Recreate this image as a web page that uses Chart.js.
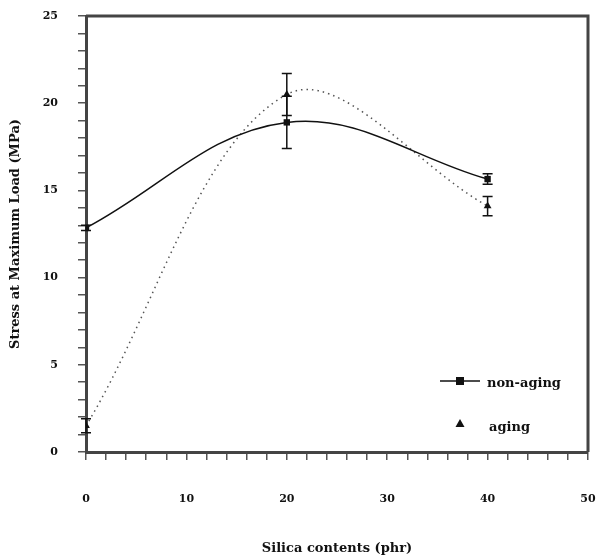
<!DOCTYPE html>
<html>
<head>
<meta charset="utf-8">
<script src="https://cdn.jsdelivr.net/npm/chart.js@4"></script>
<style>
  html, body { margin: 0; padding: 0; background: #fff; }
  #wrap { width: 597px; height: 560px; }
</style>
</head>
<body>
<div id="wrap"><canvas id="myChart" width="597" height="560"></canvas></div>
<script>
// silica content (phr)
var silica = [0, 20, 40];
// stress at maximum load (MPa)
var nonAging = [12.85, 18.9, 15.65];
var nonAgingErr = [0.15, 1.5, 0.3];
var aging = [1.5, 20.5, 14.1];
var agingErr = [0.4, 1.2, 0.55];

var seriesNames = ["non-aging", "aging"];

var serif = "'DejaVu Serif', 'Liberation Serif', serif";

function toPoints(xs, ys){
    var pts = [];
    for(var i=0;i<xs.length;i++){
        pts.push({x: xs[i], y: ys[i]});
    }
    return pts;
}

// frame round the plot area (top and right sides)
var frame = {
    id: "frame",
    afterDraw: function(chart){
        var c = chart.ctx, a = chart.chartArea;
        c.save();
        c.strokeStyle = "#444";
        c.lineWidth = 3;
        c.beginPath();
        c.moveTo(a.left, a.top);
        c.lineTo(a.right, a.top);
        c.lineTo(a.right, a.bottom);
        c.stroke();
        c.restore();
    }
};

// vertical error bars with caps
var errBars = {
    id: "errBars",
    afterDatasetsDraw: function(chart){
        var c = chart.ctx;
        var xs = chart.scales.x, ys = chart.scales.y;
        c.save();
        c.strokeStyle = "#111";
        c.lineWidth = 1.5;
        chart.data.datasets.forEach(function(ds){
            if(!ds.errors) return;
            ds.data.forEach(function(p, i){
                var e = ds.errors[i];
                var px = xs.getPixelForValue(p.x);
                var top = ys.getPixelForValue(p.y + e);
                var bot = ys.getPixelForValue(p.y - e);
                c.beginPath();
                c.moveTo(px, top); c.lineTo(px, bot);
                c.moveTo(px-5, top); c.lineTo(px+5, top);
                c.moveTo(px-5, bot); c.lineTo(px+5, bot);
                c.stroke();
            });
        });
        c.restore();
    }
};

// legend inside the plot, lower right
var innerLegend = {
    id: "innerLegend",
    afterDraw: function(chart){
        var c = chart.ctx, a = chart.chartArea;
        var x0 = a.right - 148;
        var y1 = a.bottom - 71;
        var y2 = a.bottom - 28;
        c.save();
        c.fillStyle = "#111";
        c.strokeStyle = "#111";
        c.lineWidth = 1.5;
        c.beginPath();
        c.moveTo(x0, y1); c.lineTo(x0+40, y1);
        c.stroke();
        c.fillRect(x0+16, y1-4, 8, 8);
        c.beginPath();
        c.moveTo(x0+20, y2-5);
        c.lineTo(x0+24.5, y2+3);
        c.lineTo(x0+15.5, y2+3);
        c.closePath();
        c.fill();
        c.font = "bold 13px " + serif;
        c.textBaseline = "middle";
        c.fillText(chart.data.datasets[0].label, x0+47, y1+3);
        c.fillText(chart.data.datasets[1].label, x0+49, y2+4);
        c.restore();
    }
};

new Chart("myChart", {
    type: "line",
    data: {
        datasets: [{
            label: seriesNames[0],
            data: toPoints(silica, nonAging),
            errors: nonAgingErr,
            borderColor: "#111",
            backgroundColor: "#111",
            borderWidth: 1.5,
            tension: 0.38,
            pointStyle: "rect",
            pointRadius: 4.5,
            pointBorderWidth: 0
        },{
            label: seriesNames[1],
            data: toPoints(silica, aging),
            errors: agingErr,
            borderColor: "#555",
            backgroundColor: "#111",
            borderWidth: 1.5,
            borderDash: [1.5, 4],
            tension: 0.35,
            pointStyle: "triangle",
            pointRadius: 4.5,
            pointBorderWidth: 0
        }]
    },
    options: {
        responsive: false,
        animation: false,
        layout: { padding: { top: 16, right: 9, left: 0, bottom: 0 } },
        plugins: {
            legend: { display: false },
            tooltip: { enabled: false }
        },
        scales: {
            x: {
                type: "linear",
                min: 0, max: 50,
                afterFit: function(s){
                    s.height = 108;
                    s.paddingLeft = 0;
                    s.paddingRight = 0;
                },
                ticks: {
                    stepSize: 2,
                    autoSkip: false,
                    maxRotation: 0,
                    padding: 33,
                    color: "#111",
                    font: { family: serif, size: 11, weight: "bold" },
                    callback: function(v){ return v % 10 === 0 ? v : ""; }
                },
                grid: { drawOnChartArea: false, drawTicks: true, tickLength: 8, color: "#555", lineWidth: 1.5 },
                border: { display: true, color: "#444", width: 3 },
                title: {
                    display: true,
                    text: "Silica contents (phr)",
                    color: "#111",
                    padding: { top: 4, bottom: 4 },
                    font: { family: serif, size: 13, weight: "bold" }
                }
            },
            y: {
                min: 0, max: 25,
                afterFit: function(s){
                    s.width = 86;
                    s.paddingTop = 0;
                    s.paddingBottom = 0;
                },
                ticks: {
                    stepSize: 1,
                    autoSkip: false,
                    padding: 20,
                    color: "#111",
                    font: { family: serif, size: 11, weight: "bold" },
                    callback: function(v){ return v % 5 === 0 ? v : ""; }
                },
                grid: { drawOnChartArea: false, drawTicks: true, tickLength: 8, color: "#555", lineWidth: 1.5 },
                border: { display: true, color: "#444", width: 3 },
                title: {
                    display: true,
                    text: "Stress at Maximum Load (MPa)",
                    color: "#111",
                    padding: { top: 8, bottom: 4 },
                    font: { family: serif, size: 13, weight: "bold" }
                }
            }
        }
    },
    plugins: [frame, errBars, innerLegend]
});
</script>
</body>
</html>
